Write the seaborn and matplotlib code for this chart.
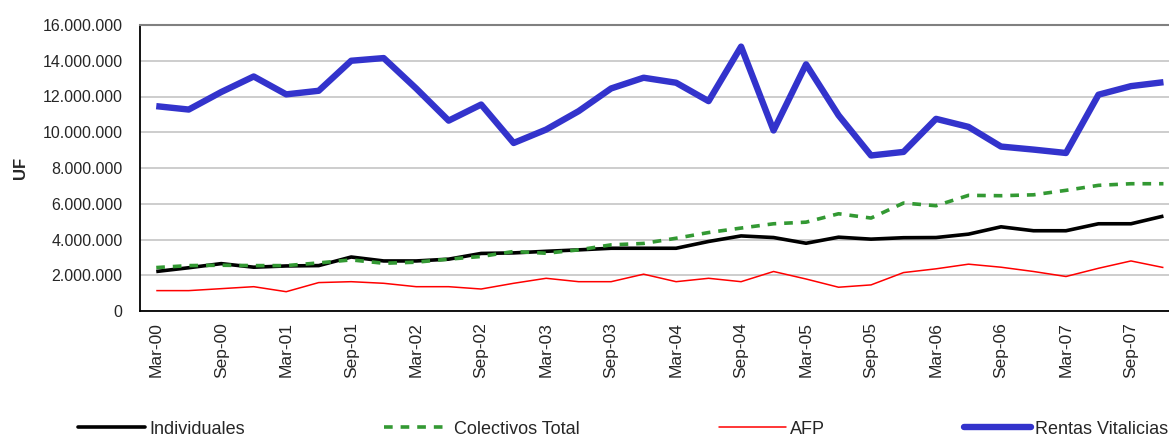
import numpy as np
import pandas as pd
import seaborn as sns
import matplotlib.pyplot as plt
from matplotlib.lines import Line2D
from matplotlib.ticker import FuncFormatter

# Quarterly periods, Mar-00 .. Dec-07
trimestres = [f"{m}-{a:02d}" for a in range(0, 8) for m in ("Mar", "Jun", "Sep", "Dec")]

# Values in millions of UF
individuales = [2.21, 2.42, 2.65, 2.45, 2.52, 2.54, 3.02, 2.80, 2.80, 2.90, 3.22, 3.25,
                3.34, 3.42, 3.51, 3.51, 3.51, 3.89, 4.20, 4.11, 3.79, 4.13, 4.02, 4.10,
                4.11, 4.30, 4.71, 4.49, 4.49, 4.88, 4.88, 5.31]
colectivos = [2.43, 2.54, 2.56, 2.54, 2.54, 2.69, 2.86, 2.67, 2.73, 2.90, 3.05, 3.33,
              3.23, 3.42, 3.70, 3.78, 4.07, 4.39, 4.64, 4.88, 4.97, 5.44, 5.20, 6.04,
              5.89, 6.47, 6.45, 6.50, 6.75, 7.03, 7.12, 7.12]
afp = [1.14, 1.14, 1.25, 1.36, 1.08, 1.59, 1.64, 1.55, 1.36, 1.36, 1.23, 1.55,
       1.83, 1.64, 1.64, 2.06, 1.64, 1.83, 1.64, 2.21, 1.79, 1.33, 1.46, 2.15,
       2.36, 2.62, 2.45, 2.21, 1.93, 2.39, 2.80, 2.43]
rentas = [11.46, 11.27, 12.25, 13.12, 12.12, 12.32, 14.00, 14.15, 12.45, 10.65, 11.55, 9.40,
          10.15, 11.18, 12.45, 13.05, 12.77, 11.74, 14.79, 10.10, 13.80, 10.95, 8.70, 8.90,
          10.75, 10.30, 9.20, 9.03, 8.84, 12.10, 12.58, 12.80]

series = ["Individuales", "Colectivos Total", "AFP", "Rentas Vitalicias"]
colores = {"Individuales": "black", "Colectivos Total": "#339933",
           "AFP": "#ff0000", "Rentas Vitalicias": "#3333cc"}
grosor = {"Individuales": 2.6, "Colectivos Total": 2.6, "AFP": 1.1, "Rentas Vitalicias": 4.6}
trazo = {"Individuales": "", "Colectivos Total": (2.4, 2.2), "AFP": "", "Rentas Vitalicias": ""}

df = pd.DataFrame({"pos": np.arange(len(trimestres))})
for nombre, vals in zip(series, [individuales, colectivos, afp, rentas]):
    df[nombre] = vals
largo = df.melt(id_vars="pos", var_name="serie", value_name="valor")

sns.set_style("white")
plt.rcParams["font.family"] = ["Liberation Sans", "DejaVu Sans"]

fig = plt.figure(figsize=(11.69, 4.38), dpi=100)
ax = fig.add_axes([140 / 1169, 127 / 438, 1039.7 / 1169, 286 / 438])

for nombre in series:
    sub = largo[largo["serie"] == nombre]
    sns.lineplot(data=sub, x="pos", y="valor", ax=ax, color=colores[nombre],
                 linewidth=grosor[nombre], legend=False, solid_joinstyle="round",
                 solid_capstyle="butt")
    if trazo[nombre]:
        ax.lines[-1].set_dashes(trazo[nombre])

ax.set_xlim(-0.5, len(trimestres) - 0.5)
ax.set_ylim(0, 16)
ax.set_yticks(np.arange(0, 17, 2))
ax.yaxis.set_major_formatter(FuncFormatter(lambda v, p: f"{int(round(v * 1e6)):,}".replace(",", ".")))
ax.yaxis.grid(True, color="#c0c0c0", linewidth=1.1)
ax.set_axisbelow(True)

ax.set_xticks(np.arange(0, len(trimestres), 2))
ax.set_xticklabels(trimestres[::2], rotation=90, fontsize=12.5)
ax.set_xticks(np.arange(-0.5, len(trimestres) + 0.5, 1), minor=True)
ax.tick_params(axis="x", which="major", length=0, pad=8)
ax.tick_params(axis="x", which="minor", length=5, width=1, color="black", direction="out")
ax.tick_params(axis="y", length=5, width=1, color="black", direction="out", pad=7.5, labelsize=11.5)

ax.set_xlabel("")
ax.set_ylabel("UF", fontsize=12, fontweight="bold")
ax.yaxis.set_label_coords(-0.108, 0.5)

for lado in ["left", "bottom"]:
    ax.spines[lado].set_color("black")
    ax.spines[lado].set_linewidth(1.3)
ax.spines["top"].set_color("#808080")
ax.spines["top"].set_linewidth(1.5)
ax.spines["right"].set_visible(False)

manijas = []
for nombre in series:
    ln = Line2D([], [], color=colores[nombre], linewidth=grosor[nombre])
    if trazo[nombre]:
        ln.set_dashes(trazo[nombre])
    manijas.append(ln)
fig.legend(manijas, series, loc="center", bbox_to_anchor=(623 / 1169, 9 / 438), ncol=4,
           frameon=False, handlelength=3.7, handletextpad=0.22, columnspacing=7.7,
           prop={"size": 13})

fig.savefig("out.png", dpi=100)
